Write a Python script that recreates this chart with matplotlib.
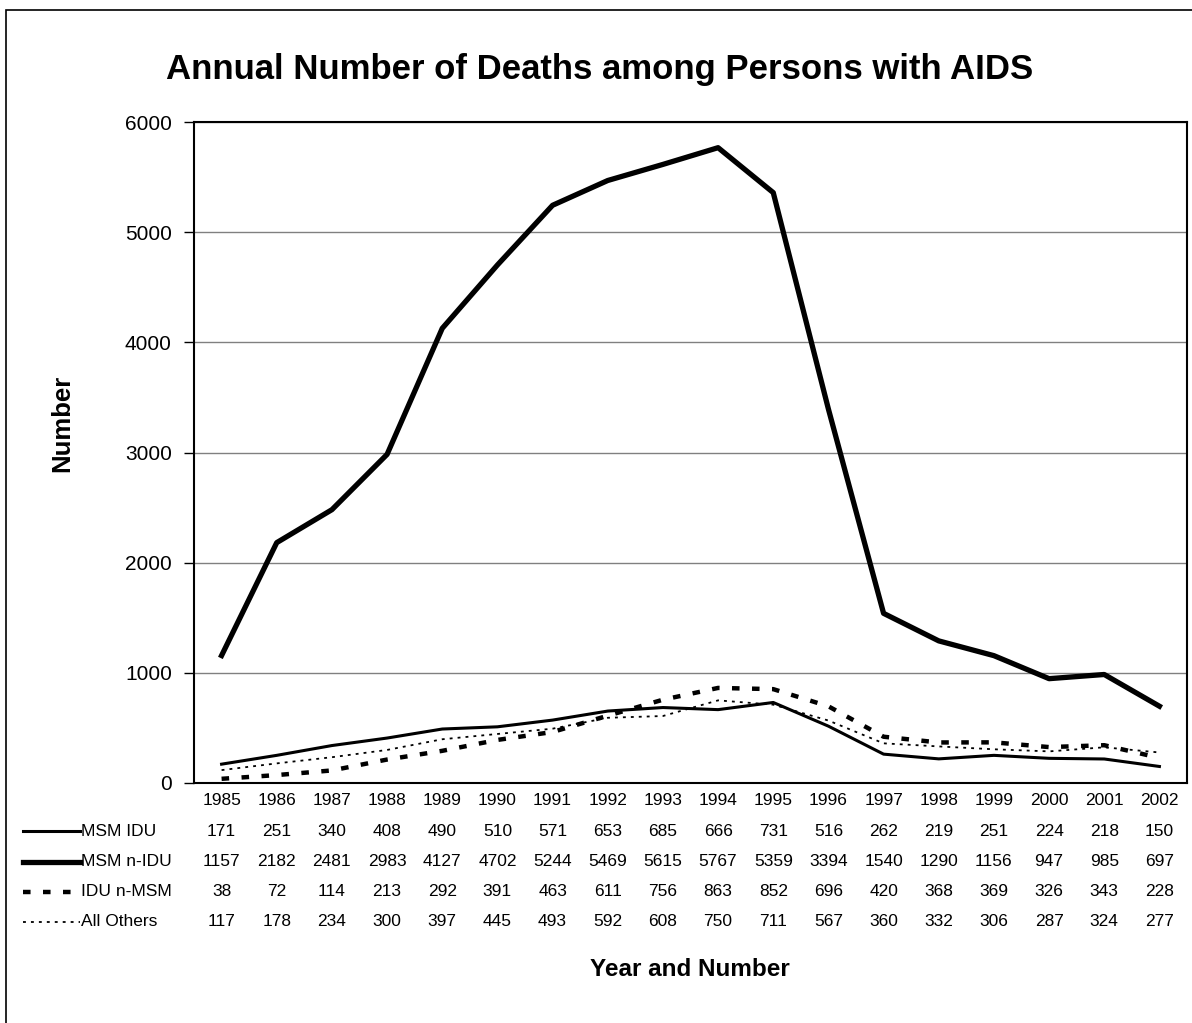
import matplotlib
matplotlib.use("Agg")
import matplotlib.pyplot as plt
from matplotlib.lines import Line2D
from matplotlib.patches import Rectangle
from matplotlib.transforms import blended_transform_factory

plt.rcParams['font.family'] = ['Liberation Sans', 'DejaVu Sans']

years = [1985, 1986, 1987, 1988, 1989, 1990, 1991, 1992, 1993,
         1994, 1995, 1996, 1997, 1998, 1999, 2000, 2001, 2002]
msm_idu = [171, 251, 340, 408, 490, 510, 571, 653, 685,
           666, 731, 516, 262, 219, 251, 224, 218, 150]
msm_nidu = [1157, 2182, 2481, 2983, 4127, 4702, 5244, 5469, 5615,
            5767, 5359, 3394, 1540, 1290, 1156, 947, 985, 697]
idu_nmsm = [38, 72, 114, 213, 292, 391, 463, 611, 756,
            863, 852, 696, 420, 368, 369, 326, 343, 228]
all_others = [117, 178, 234, 300, 397, 445, 493, 592, 608,
              750, 711, 567, 360, 332, 306, 287, 324, 277]
series_names = ["MSM IDU", "MSM n-IDU", "IDU n-MSM", "All Others"]
y_ticks = [0, 1000, 2000, 3000, 4000, 5000, 6000]

W, H = 1192, 1023
fig = plt.figure(figsize=(W / 100, H / 100), dpi=100)

# outer frame (left and top edges visible)
fig.patches.append(Rectangle((6 / W, -0.1), 1.2, 1 - 10 / H + 0.1,
                             transform=fig.transFigure, fill=False,
                             edgecolor='black', lw=1.2))

left, right, top, bottom = 194, 1187, 122, 783
ax = fig.add_axes([left / W, 1 - bottom / H, (right - left) / W, (bottom - top) / H])

styles = [
    dict(color='black', lw=2.2, ls='-'),
    dict(color='black', lw=3.8, ls='-'),
    dict(color='black', lw=3.2, ls=(0, (1.7, 2.8))),
    dict(color='black', lw=1.3, ls=(0, (1.6, 2.8))),
]
data = [msm_idu, msm_nidu, idu_nmsm, all_others]
x = list(range(len(years)))
for vals, st in zip(data, styles):
    ax.plot(x, vals, solid_joinstyle='round', dash_capstyle='butt', **st, zorder=3)

table_fs = 12.5
ax.set_xlim(-0.5, len(years) - 0.5)
ax.set_ylim(0, 6000)
ax.set_yticks(y_ticks)
ax.set_yticklabels([str(v) for v in y_ticks], fontsize=15)
ax.tick_params(axis='y', length=7, width=1, pad=9, direction='out')
ax.set_xticks(x)
ax.set_xticklabels([str(y) for y in years], fontsize=table_fs)
ax.tick_params(axis='x', length=0, pad=7)
ax.grid(axis='y', color='#808080', lw=1)
ax.set_axisbelow(True)
for s in ax.spines.values():
    s.set_linewidth(1.5)

fig.text(600 / W, 1 - 70 / H, "Annual Number of Deaths among Persons with AIDS",
         ha='center', va='center', fontsize=25, fontweight='bold')
fig.text(62 / W, 1 - 423 / H, "Number", rotation=90, ha='center', va='center',
         fontsize=18.5, fontweight='bold')
fig.text(690 / W, 1 - 969 / H, "Year and Number", ha='center', va='center',
         fontsize=17.5, fontweight='bold')

# data table below the axis
tr = blended_transform_factory(ax.transData, fig.transFigure)
row_y = [831, 862, 892, 922]
for vals, st, name, ry in zip(data, styles, series_names, row_y):
    yf = 1 - ry / H
    fig.add_artist(Line2D([23 / W, 80 / W], [yf, yf], transform=fig.transFigure,
                          color=st['color'], lw=st['lw'], ls=st['ls']))
    fig.text(81 / W, yf, name, ha='left', va='center', fontsize=table_fs)
    for xi, v in zip(x, vals):
        ax.text(xi, yf, str(v), transform=tr, ha='center', va='center', fontsize=table_fs)

fig.savefig("out.png", dpi=100, facecolor='white')
